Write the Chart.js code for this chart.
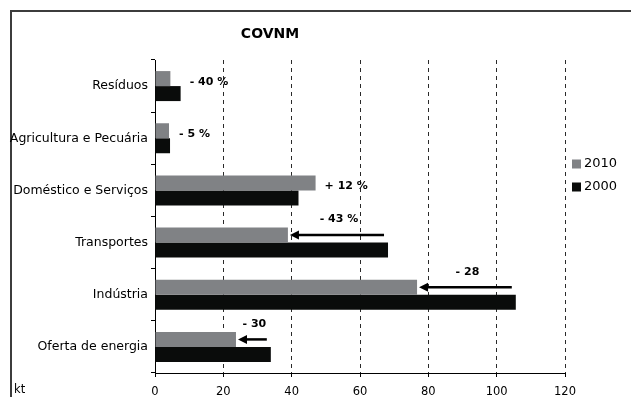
<!DOCTYPE html>
<html lang="pt">
<head>
<meta charset="utf-8">
<title>COVNM</title>
<script src="https://cdn.jsdelivr.net/npm/chart.js@4.4.1/dist/chart.umd.min.js"></script>
<style>
    html, body { margin: 0; padding: 0; background: #fff; overflow: hidden; }
    #wrap { position: relative; width: 631px; height: 397px; }
</style>
</head>
<body>
<div id="wrap"><canvas id="covnmChart" width="631" height="397"></canvas></div>
<script>
// Emissões de COVNM por setor (kt)
const categorias = [
    'Resíduos',
    'Agricultura e Pecuária',
    'Doméstico e Serviços',
    'Transportes',
    'Indústria',
    'Oferta de energia'
];
const valores2010 = [4.5, 4.1, 47.0, 38.9, 76.7, 23.7];
const valores2000 = [7.5, 4.4, 42.0, 68.2, 105.6, 33.9];
const variacoes   = ['- 40 %', '- 5 %', '+ 12 %', '- 43 %', '- 28', '- 30'];
const comSeta     = [false, false, false, true, true, true];
const anos        = ['2010', '2000'];
const ticksX      = [0, 20, 40, 60, 80, 100, 120];

const COR_2010 = '#808285';
const COR_2000 = '#0a0c0b';
const FONTE = "'DejaVu Sans', Verdana, sans-serif";

// Moldura, título, legenda, variações e setas
const extras = {
    id: 'extras',
    beforeDraw(chart) {
        const ctx = chart.ctx;
        ctx.save();
        ctx.strokeStyle = '#3c3c3c';
        ctx.lineWidth = 2;
        ctx.beginPath();
        ctx.moveTo(11, 397);
        ctx.lineTo(11, 11);
        ctx.lineTo(631, 11);
        ctx.stroke();
        ctx.restore();
    },
    afterDatasetsDraw(chart) {
        const { ctx, scales: { x, y } } = chart;
        const barras2010 = chart.getDatasetMeta(0).data;
        ctx.save();

        // título
        ctx.fillStyle = '#000';
        ctx.font = 'bold 14px ' + FONTE;
        ctx.textAlign = 'center';
        ctx.textBaseline = 'middle';
        ctx.fillText('COVNM', 270, 34);

        // legenda
        ctx.font = '13px ' + FONTE;
        ctx.textAlign = 'left';
        [COR_2010, COR_2000].forEach((cor, i) => {
            const yy = 164 + i * 23;
            ctx.fillStyle = cor;
            ctx.fillRect(572, yy - 4.5, 9, 9);
            ctx.fillStyle = '#000';
            ctx.fillText(anos[i], 584, yy);
        });

        // unidade
        ctx.font = '11.5px ' + FONTE;
        ctx.fillText('kt', 14, 390);

        // variações
        ctx.font = 'bold 11px ' + FONTE;
        categorias.forEach((c, i) => {
            const barra = barras2010[i];
            const x10 = x.getPixelForValue(valores2010[i]);
            const x00 = x.getPixelForValue(valores2000[i]);
            if (comSeta[i]) {
                const xIni = x00 - 4;
                const xFim = x10 + 2;
                const ys = barra.y;
                ctx.strokeStyle = '#000';
                ctx.lineWidth = 2.5;
                ctx.beginPath();
                ctx.moveTo(xIni, ys);
                ctx.lineTo(xFim + 7, ys);
                ctx.stroke();
                ctx.fillStyle = '#000';
                ctx.beginPath();
                ctx.moveTo(xFim, ys);
                ctx.lineTo(xFim + 9, ys - 4.5);
                ctx.lineTo(xFim + 9, ys + 4.5);
                ctx.closePath();
                ctx.fill();
                ctx.textAlign = 'center';
                ctx.fillText(variacoes[i], (xIni + xFim) / 2 + 2, barra.y - barra.height / 2 - 8);
            } else {
                ctx.fillStyle = '#000';
                ctx.textAlign = 'left';
                ctx.fillText(variacoes[i], Math.max(x10, x00) + 9, y.getPixelForValue(i) - 4);
            }
        });
        ctx.restore();
    }
};

Chart.defaults.font.family = FONTE;
Chart.defaults.color = '#000';

new Chart(document.getElementById('covnmChart'), {
    type: 'bar',
    data: {
        labels: categorias,
        datasets: [
            { label: anos[0], data: valores2010, backgroundColor: COR_2010 },
            { label: anos[1], data: valores2000, backgroundColor: COR_2000 }
        ]
    },
    options: {
        indexAxis: 'y',
        responsive: false,
        animation: false,
        categoryPercentage: 0.575,
        barPercentage: 1.0,
        layout: { padding: { top: 60, right: 66, bottom: 0, left: 0 } },
        plugins: {
            legend: { display: false },
            title: { display: false },
            tooltip: { enabled: false }
        },
        scales: {
            x: {
                min: 0,
                max: 120,
                afterBuildTicks: scale => { scale.ticks = ticksX.map(v => ({ value: v })); },
                afterFit: scale => { scale.height = 24; },
                grid: {
                    color: ctx => ctx.index === 0 ? 'rgba(0,0,0,0)' : '#2a2a2a',
                    lineWidth: 1,
                    tickLength: 4,
                    tickColor: '#000',
                    tickBorderDash: []
                },
                border: { color: '#000', width: 1, dash: [4, 4] },
                ticks: { font: { size: 11.5 }, padding: 8, color: '#000' }
            },
            y: {
                afterFit: scale => { scale.width = 155; },
                grid: {
                    drawOnChartArea: false,
                    tickLength: 4,
                    color: '#000'
                },
                border: { color: '#000', width: 1 },
                ticks: { font: { size: 12.5 }, padding: 3, color: '#000' }
            }
        }
    },
    plugins: [extras]
});
</script>
</body>
</html>
